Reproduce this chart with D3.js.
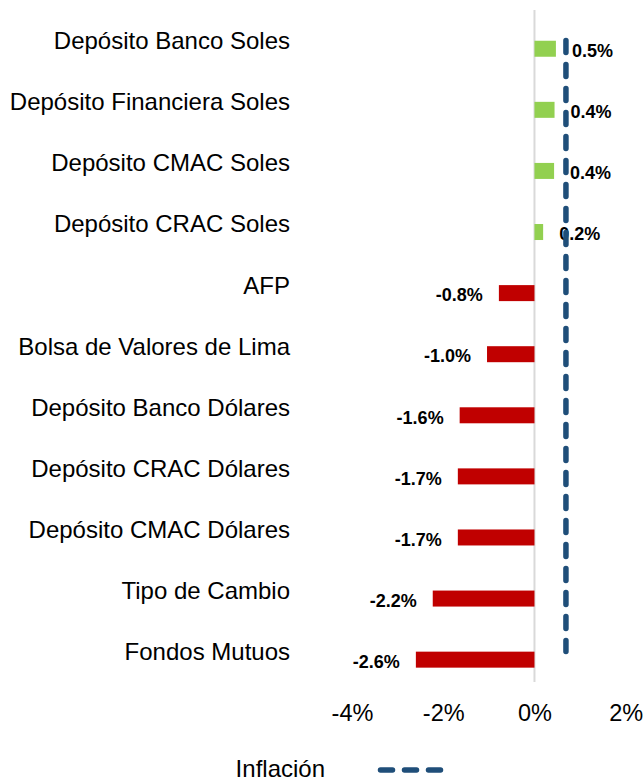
<!DOCTYPE html>
<html>
<head>
<meta charset="utf-8">
<script src="https://cdn.jsdelivr.net/npm/d3@7"></script>
<style>
  body { margin: 0; background: #fff; }
  svg { display: block; font-family: 'Liberation Sans', Arial, sans-serif; }
</style>
</head>
<body>
<div id="chart"></div>
<script>
'use strict';

// data
const categories = [
  'Depósito Banco Soles', 'Depósito Financiera Soles', 'Depósito CMAC Soles',
  'Depósito CRAC Soles', 'AFP', 'Bolsa de Valores de Lima', 'Depósito Banco Dólares',
  'Depósito CRAC Dólares', 'Depósito CMAC Dólares', 'Tipo de Cambio', 'Fondos Mutuos'
]
const returns = [0.47, 0.44, 0.43, 0.19, -0.78, -1.04, -1.64, -1.68, -1.68, -2.23, -2.6]
const inflation = 0.69
const x_ticks = [-4, -2, 0, 2]
const legend_label = 'Inflación'

const width = 644
const height = 783
const plot = { top: 10, bottom: 682 }
const font = "'Liberation Sans', Arial, sans-serif"

const svg = d3.select('#chart').append('svg')
  .attr('width', width)
  .attr('height', height)

const xScale = d3.scaleLinear()
  .domain([-4, 2])
  .range([352, 625.7])

const yScale = d3.scaleBand()
  .domain(categories)
  .range([plot.top, plot.bottom])
  .padding(0)

const band_mid = d => yScale(d) + yScale.bandwidth() / 2

// zero line
svg.append('line')
  .attr('x1', xScale(0)).attr('x2', xScale(0))
  .attr('y1', plot.top).attr('y2', plot.bottom)
  .attr('stroke', '#d9d9d9')
  .attr('stroke-width', 2)

// category labels
svg.append('g')
  .selectAll('text')
  .data(categories)
  .join('text')
  .attr('x', 290)
  .attr('y', d => band_mid(d))
  .attr('dy', '0.36em')
  .attr('text-anchor', 'end')
  .style('font-size', '24px')
  .style('font-family', font)
  .style('fill', '#000')
  .text(d => d)

// bars
const rows = categories.map((c, i) => ({ cat: c, value: returns[i] }))
const bar_h = 16

svg.append('g')
  .selectAll('rect')
  .data(rows)
  .join('rect')
  .attr('x', d => xScale(Math.min(0, d.value)))
  .attr('width', d => Math.abs(xScale(d.value) - xScale(0)))
  .attr('y', d => band_mid(d.cat) + 0.2)
  .attr('height', bar_h)
  .attr('fill', d => d.value >= 0 ? '#92d050' : '#c00000')

// value labels
svg.append('g')
  .selectAll('text')
  .data(rows)
  .join('text')
  .attr('x', d => d.value >= 0 ? xScale(d.value) + 16 : xScale(d.value) - 16)
  .attr('y', d => band_mid(d.cat) + 10)
  .attr('dy', '0.36em')
  .attr('text-anchor', d => d.value >= 0 ? 'start' : 'end')
  .style('font-size', '18px')
  .style('font-weight', 'bold')
  .style('font-family', font)
  .style('fill', '#000')
  .text(d => d.value.toFixed(1) + '%')

// inflation line
svg.append('line')
  .attr('x1', xScale(inflation)).attr('x2', xScale(inflation))
  .attr('y1', band_mid(categories[0]))
  .attr('y2', band_mid(categories[categories.length - 1]))
  .attr('stroke', '#1f4e79')
  .attr('stroke-width', 5.5)
  .attr('stroke-linecap', 'round')
  .attr('stroke-dasharray', '12,12')

// x axis
const xAxis = d3.axisBottom(xScale)
  .tickValues(x_ticks)
  .tickSize(0)
  .tickPadding(22)
  .tickFormat(d => d + '%')

const xAxisGroup = svg.append('g')
  .attr('transform', `translate(0, ${plot.bottom})`)
  .call(xAxis)
xAxisGroup.select('.domain').remove()
xAxisGroup.selectAll('text')
  .style('font-size', '23.5px')
  .style('font-family', font)
  .style('fill', '#000')

// legend
const legend_g = svg.append('g')
legend_g.append('text')
  .attr('x', 325)
  .attr('y', 768)
  .attr('dy', '0.36em')
  .attr('text-anchor', 'end')
  .style('font-size', '24px')
  .style('font-family', font)
  .style('fill', '#000')
  .text(legend_label)
legend_g.append('line')
  .attr('x1', 380.5).attr('x2', 440.5)
  .attr('y1', 770).attr('y2', 770)
  .attr('stroke', '#1f4e79')
  .attr('stroke-width', 5.5)
  .attr('stroke-linecap', 'round')
  .attr('stroke-dasharray', '12,12')
</script>
</body>
</html>
